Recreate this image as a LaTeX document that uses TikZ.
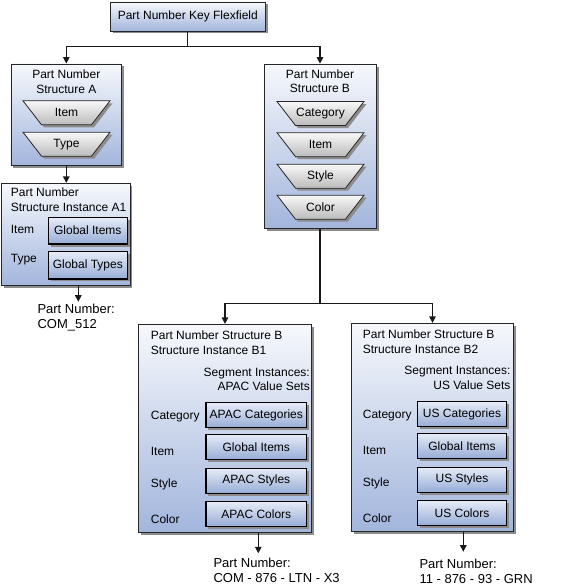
\documentclass[tikz,border=0pt]{standalone}
\usepackage{fontspec}
\setmainfont{Liberation Sans}
\usetikzlibrary{shadows,arrows.meta}
\definecolor{boxtop}{HTML}{F6F8FC}
\definecolor{boxbot}{HTML}{A2B5DC}
\definecolor{valtop}{HTML}{E6ECF7}
\definecolor{valbot}{HTML}{97ACD7}
\definecolor{traptop}{HTML}{F8F8F8}
\definecolor{trapbot}{HTML}{BBBBBB}
\tikzset{
  every node/.style={font=\fontsize{12}{14.5}\selectfont},
  shad/.style={drop shadow={shadow xshift=2.5pt,shadow yshift=-2.5pt,fill=black!45,opacity=1}},
  panel/.style={draw=black!85,line width=0.8pt,top color=boxtop,bottom color=boxbot,shad,inner sep=0pt},
  valbox/.style={draw=black,line width=1.3pt,top color=valtop,bottom color=valbot,shad,inner sep=0pt,minimum height=25pt},
  trapdraw/.style={draw=black!85,line width=0.8pt,line join=miter,top color=traptop,bottom color=trapbot,shad},
  txt/.style={inner sep=0pt},
  pnum/.style={inner sep=0pt,anchor=west,align=left,font=\fontsize{13}{15}\selectfont},
  conn/.style={line width=1.2pt,draw=black!90},
  arr/.style={conn,-{Triangle[length=6.5pt,width=6.5pt]}}
}
\newcommand\trapnode[4]{%
  \path[trapdraw] ({#2-43.5},{#3-12}) -- ({#2+43.5},{#3-12}) -- ({#2+25},{#3+12}) -- ({#2-25},{#3+12}) -- cycle;
  \node[txt] (#1) at (#2,#3) {#4};}
\begin{document}
\begin{tikzpicture}[x=1pt,y=-1pt]
\useasboundingbox (0,0) rectangle (574,586);
% top
\node[panel,minimum width=155.5pt,minimum height=29pt] (kf) at (187.8,16.5) {Part Number Key Flexfield};
% structure A
\node[panel,minimum width=110.7pt,minimum height=101.7pt] (sA) at (66.3,114.8) {};
\node[txt,align=center] (sAt) at (66.3,81.5) {Part Number\\Structure A};
\trapnode{tAi}{66.5}{112.8}{Item}
\trapnode{tAt}{66.5}{144.2}{Type}
% structure B
\node[panel,minimum width=112pt,minimum height=164.3pt] (sB) at (320,146.2) {};
\node[txt,align=center] (sBt) at (320,81.2) {Part Number\\Structure B};
\trapnode{tBc}{320.5}{113.5}{Category}
\trapnode{tBi}{320.5}{144.7}{Item}
\trapnode{tBs}{320.5}{176.2}{Style}
\trapnode{tBo}{320.5}{207.2}{Color}
% instance A1
\node[panel,minimum width=128.3pt,minimum height=102.4pt] (A1) at (65.8,234.5) {};
\node[txt,anchor=west,align=left] (A1t) at (10.7,199.7) {Part Number\\Structure Instance A1};
\node[txt,anchor=west] (A1li) at (10.7,229.3) {Item};
\node[txt,anchor=west] (A1lt) at (10.7,260) {Type};
\node[valbox,minimum width=79pt,minimum height=26.7pt] (A1vi) at (87.8,230.7) {Global Items};
\node[valbox,minimum width=79pt,minimum height=27.3pt] (A1vt) at (87.8,265.3) {Global Types};
% instance B1
\node[panel,minimum width=173.4pt,minimum height=208.4pt] (B1) at (225,428.5) {};
\node[txt,anchor=west,align=left] (B1t) at (150.7,342.5) {Part Number Structure B\\Structure Instance B1};
\node[txt,anchor=east,align=right] (B1s) at (310,379.2) {Segment Instances:\\APAC Value Sets};
\node[txt,anchor=west] (B1lc) at (150.7,416.7) {Category};
\node[txt,anchor=west] (B1li) at (150.7,451.7) {Item};
\node[txt,anchor=west] (B1ls) at (150.7,484) {Style};
\node[txt,anchor=west] (B1lo) at (150.7,519.3) {Color};
\node[valbox,minimum width=100.7pt] (B1vc) at (256.3,415.3) {APAC Categories};
\node[valbox,minimum width=100.7pt] (B1vi) at (256.3,447) {Global Items};
\node[valbox,minimum width=100.7pt] (B1vs) at (256.3,480.8) {APAC Styles};
\node[valbox,minimum width=100.7pt] (B1vo) at (256.3,513.8) {APAC Colors};
% instance B2
\node[panel,minimum width=161.6pt,minimum height=208.4pt] (B2) at (432.5,427.5) {};
\node[txt,anchor=west,align=left] (B2t) at (362.7,341.8) {Part Number Structure B\\Structure Instance B2};
\node[txt,anchor=east,align=right] (B2s) at (510.7,378) {Segment Instances:\\US Value Sets};
\node[txt,anchor=west] (B2lc) at (362.7,416) {Category};
\node[txt,anchor=west] (B2li) at (362.7,450.7) {Item};
\node[txt,anchor=west] (B2ls) at (362.7,483.3) {Style};
\node[txt,anchor=west] (B2lo) at (362.7,518.3) {Color};
\node[valbox,minimum width=89.4pt] (B2vc) at (462,414.2) {US Categories};
\node[valbox,minimum width=89.4pt] (B2vi) at (462,445.8) {Global Items};
\node[valbox,minimum width=89.4pt] (B2vs) at (462,479.7) {US Styles};
\node[valbox,minimum width=89.4pt] (B2vo) at (462,513) {US Colors};
% part numbers
\node[pnum] (pn1) at (37.3,317.5) {Part Number:\\COM\_512};
\node[pnum] (pn2) at (213.3,570.3) {Part Number:\\COM - 876 - LTN - X3};
\node[pnum] (pn3) at (419.3,571) {Part Number:\\11 - 876 - 93 - GRN};
% connectors
\coordinate (j1) at (187.8,46.7);
\draw[conn] (kf.south) -- (j1);
\draw[arr] (j1) -| (sA.north);
\draw[arr] (j1) -| (sB.north);
\draw[arr] (sA.south) -- (sA.south |- A1.north);
\coordinate (e1) at (78.3,301.7);
\draw[arr] (e1 |- A1.south) -- (e1);
\coordinate (j2) at (320,303.3);
\draw[conn] (sB.south) -- (j2);
\draw[arr] (j2) -| (B1.north);
\draw[arr] (j2) -| (B2.north);
\coordinate (e2) at (258.3,553.3);
\draw[arr] (e2 |- B1.south) -- (e2);
\coordinate (e3) at (463.3,551.7);
\draw[arr] (e3 |- B2.south) -- (e3);
\end{tikzpicture}
\end{document}
